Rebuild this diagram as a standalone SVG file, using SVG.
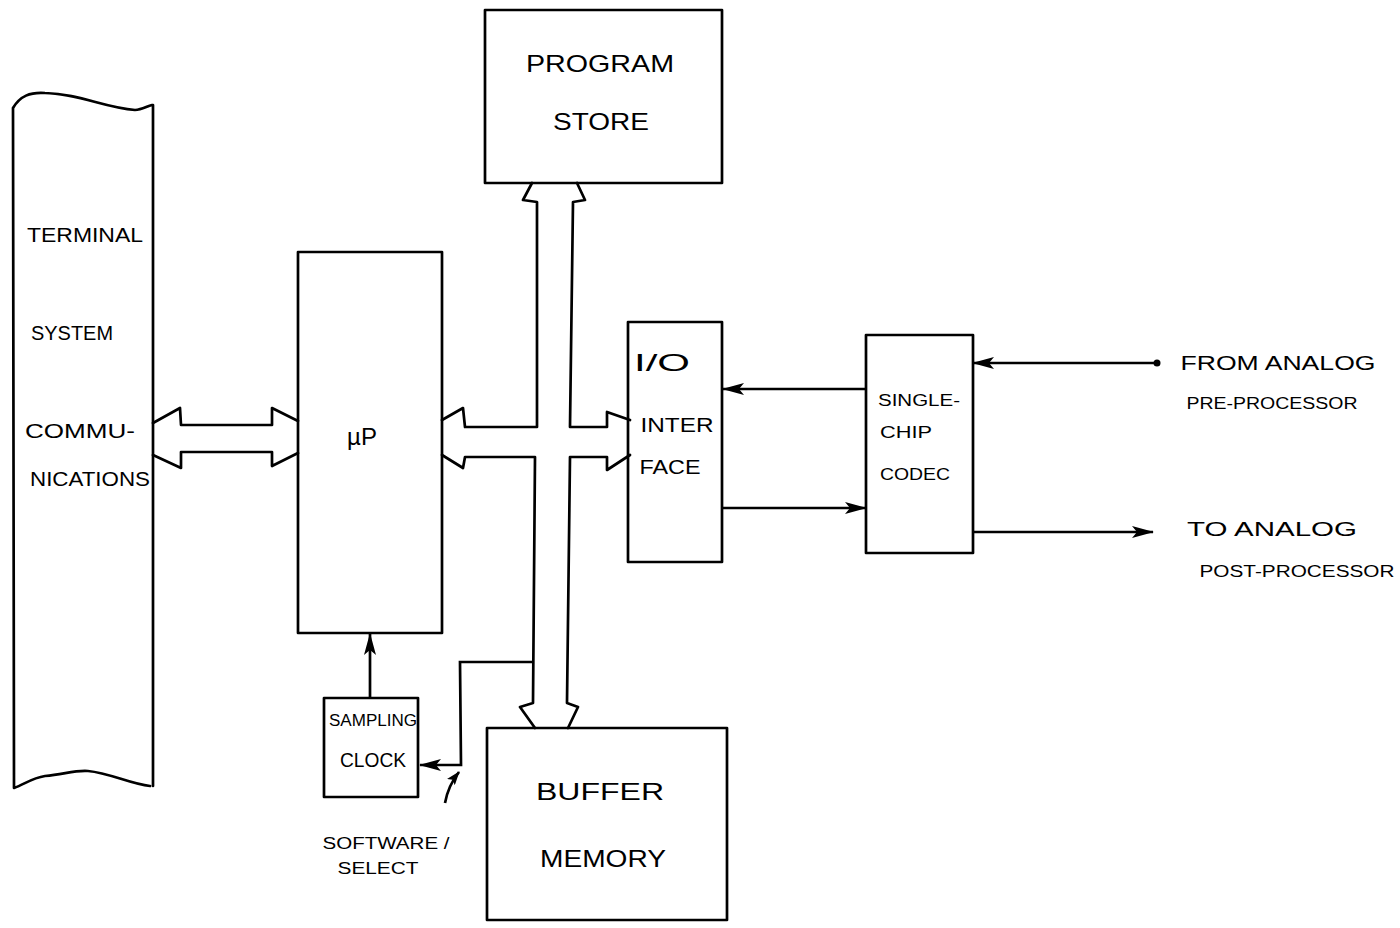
<svg xmlns="http://www.w3.org/2000/svg" width="1400" height="928" viewBox="0 0 1400 928">
<style>
.b{fill:none;stroke:#000;stroke-width:2.7;stroke-linejoin:round;stroke-linecap:round}
.l{fill:none;stroke:#000;stroke-width:2.7}
text{font-family:"Liberation Sans",Arial,sans-serif;fill:#000}
.t1{font-size:24px}
.t2{font-size:20px}
.t3{font-size:16px}
</style>
<defs>
<marker id="ah" viewBox="0 0 22 12" refX="21" refY="6" markerWidth="22" markerHeight="12" markerUnits="userSpaceOnUse" orient="auto">
<path d="M0,0 L22,6 L0,12 L5,6 z" fill="#000"/>
</marker>
<marker id="ahs" viewBox="0 0 14 10" refX="13" refY="5" markerWidth="14" markerHeight="10" markerUnits="userSpaceOnUse" orient="auto">
<path d="M0,0 L14,5 L0,10 L3,5 z" fill="#000"/>
</marker>
</defs>
<rect width="1400" height="928" fill="#fff"/>

<g id="terminal">
<path class="b" d="M13,108 C20,96 30,92 45,93 C80,94 105,108 135,110 C142,110 147,106 152,105 M13,108 L14,788 C25,784 32,778 45,776 C65,774 75,770 88,771 C110,773 130,784 150,786 M153,105 L153,786"/>
<text class="t2" x="85" y="242" text-anchor="middle" textLength="116" lengthAdjust="spacingAndGlyphs">TERMINAL</text>
<text class="t2" x="72" y="340" text-anchor="middle" textLength="82" lengthAdjust="spacingAndGlyphs">SYSTEM</text>
<text class="t2" x="80" y="438" text-anchor="middle" textLength="110" lengthAdjust="spacingAndGlyphs">COMMU-</text>
<text class="t2" x="90" y="486" text-anchor="middle" textLength="120" lengthAdjust="spacingAndGlyphs">NICATIONS</text>
</g>

<g id="up">
<rect class="b" x="298" y="252" width="144" height="381"/>
<text class="t1" x="362" y="445" text-anchor="middle">µP</text>
</g>

<g id="program-store">
<rect class="b" x="485" y="10" width="237" height="173"/>
<text class="t1" x="600" y="72" text-anchor="middle" textLength="148" lengthAdjust="spacingAndGlyphs">PROGRAM</text>
<text class="t1" x="601" y="130" text-anchor="middle" textLength="96" lengthAdjust="spacingAndGlyphs">STORE</text>
</g>

<g id="io-interface">
<rect class="b" x="628" y="322" width="94" height="240"/>
<text class="t1" x="662" y="371" text-anchor="middle" textLength="56" lengthAdjust="spacingAndGlyphs">I/O</text>
<text class="t2" x="677" y="432" text-anchor="middle" textLength="73" lengthAdjust="spacingAndGlyphs">INTER</text>
<text class="t2" x="670" y="474" text-anchor="middle" textLength="61" lengthAdjust="spacingAndGlyphs">FACE</text>
</g>

<g id="codec">
<rect class="b" x="866" y="335" width="107" height="218"/>
<text class="t3" x="919" y="406" text-anchor="middle" textLength="82" lengthAdjust="spacingAndGlyphs">SINGLE-</text>
<text class="t3" x="906" y="438" text-anchor="middle" textLength="52" lengthAdjust="spacingAndGlyphs">CHIP</text>
<text class="t3" x="915" y="480" text-anchor="middle" textLength="70" lengthAdjust="spacingAndGlyphs">CODEC</text>
</g>

<g id="sampling-clock">
<rect class="b" x="324" y="698" width="94" height="99"/>
<text class="t3" x="373" y="726" text-anchor="middle" textLength="88" lengthAdjust="spacingAndGlyphs">SAMPLING</text>
<text class="t2" x="373" y="767" text-anchor="middle" textLength="66" lengthAdjust="spacingAndGlyphs">CLOCK</text>
</g>

<g id="buffer-memory">
<rect class="b" x="487" y="728" width="240" height="192"/>
<text class="t1" x="600" y="800" text-anchor="middle" textLength="128" lengthAdjust="spacingAndGlyphs">BUFFER</text>
<text class="t1" x="603" y="867" text-anchor="middle" textLength="126" lengthAdjust="spacingAndGlyphs">MEMORY</text>
</g>

<g id="labels">
<text class="t2" x="1278" y="370" text-anchor="middle" textLength="195" lengthAdjust="spacingAndGlyphs">FROM ANALOG</text>
<text class="t3" x="1272" y="409" text-anchor="middle" textLength="171" lengthAdjust="spacingAndGlyphs">PRE-PROCESSOR</text>
<text class="t2" x="1272" y="536" text-anchor="middle" textLength="170" lengthAdjust="spacingAndGlyphs">TO ANALOG</text>
<text class="t3" x="1297" y="577" text-anchor="middle" textLength="195" lengthAdjust="spacingAndGlyphs">POST-PROCESSOR</text>
<text class="t3" x="386" y="849" text-anchor="middle" textLength="127" lengthAdjust="spacingAndGlyphs">SOFTWARE /</text>
<text class="t3" x="378" y="874" text-anchor="middle" textLength="81" lengthAdjust="spacingAndGlyphs">SELECT</text>
</g>

<g id="connectors">
<path class="b" d="M153,423 L180,408 L181,425 L272,425 L272,408 L298,421 M298,453 L272,466 L272,452 L181,452 L181,468 L153,455"/>
<path class="b" d="M532,183 L523,200 L537,202 L537,427 L465,427 L463,408 L442,420 M442,455 L463,468 L465,457 L535,457 L533,703 L520,707 L535,728 M568,728 L578,707 L567,703 L570,457 L607,457 L607,470 L630,455 M630,420 L607,412 L607,427 L570,427 L573,202 L585,200 L577,183"/>
<path class="l" d="M533,662 L460,662 L461,765 L420,765" marker-end="url(#ah)"/>
<path class="l" d="M370,698 L370,634" marker-end="url(#ah)"/>
<path class="l" d="M445,803 C447,792 451,782 459,772" marker-end="url(#ahs)"/>
<path class="l" d="M866,389 L723,389" marker-end="url(#ah)"/>
<path class="l" d="M722,508 L866,508" marker-end="url(#ah)"/>
<path class="l" d="M1157,363 L973,363" marker-end="url(#ah)"/>
<circle cx="1157" cy="363" r="3.5" fill="#000"/>
<path class="l" d="M974,532 L1153,532" marker-end="url(#ah)"/>
</g>
</svg>
